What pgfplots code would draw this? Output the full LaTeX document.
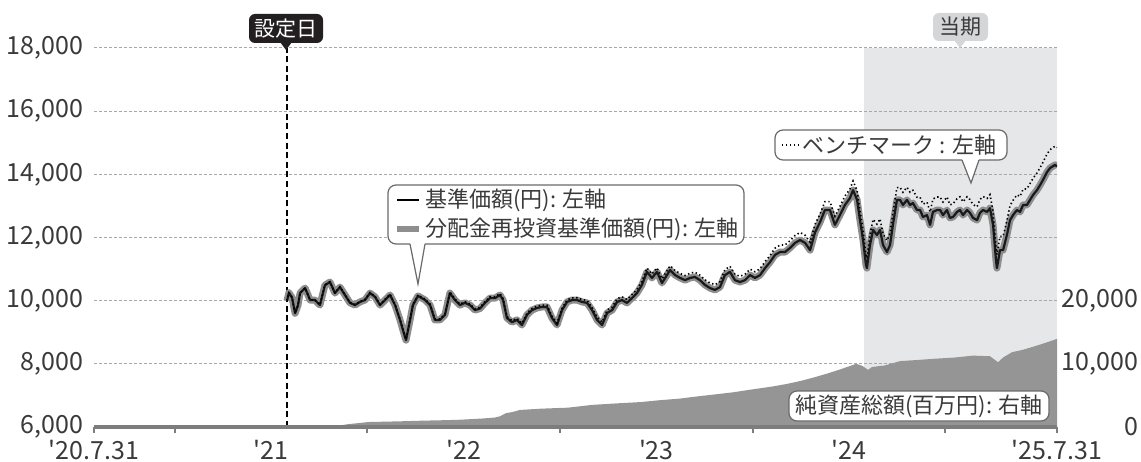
\documentclass[border=0pt]{standalone}
\usepackage{fontspec}
\setmainfont{Noto Sans CJK JP}
\usepackage{pgfplots}
\usepackage{pgfplotstable}
\pgfplotsset{compat=1.18}
\definecolor{txt}{HTML}{3A3A3A}
\definecolor{axisgray}{HTML}{7D7D7D}
\definecolor{gridgray}{HTML}{A8A8A8}
\definecolor{periodbg}{HTML}{E6E7E9}
\definecolor{bandgray}{HTML}{8E8E8E}
\definecolor{areagray}{HTML}{959595}
\definecolor{boxborder}{HTML}{6A6A6A}
\definecolor{tagdark}{HTML}{231F20}
\definecolor{taglight}{HTML}{D5D6D8}
\pgfplotsset{
  layers/mylayers/.define layer set={axis background,axis grid,pre main,main,axis ticks,axis lines,axis tick labels,axis descriptions,axis foreground}{/pgfplots/layers/standard},
}
% year, NAV (yen), benchmark (yen)
\pgfplotstableread{
year nav bm
2021.582 10000 10000
2021.592 10250 10250
2021.608 10100 10101
2021.624 9600 9602
2021.639 9850 9853
2021.650 10240 10243
2021.676 10400 10404
2021.702 10020 10026
2021.727 10020 10027
2021.753 9860 9868
2021.779 10490 10499
2021.805 10590 10600
2021.831 10240 10252
2021.857 10430 10443
2021.883 10180 10194
2021.909 9930 9945
2021.935 9860 9876
2021.961 9960 9977
2021.987 10020 10039
2022.013 10240 10260
2022.039 10120 10141
2022.065 9860 9882
2022.091 10020 10043
2022.117 10180 10204
2022.143 9860 9885
2022.169 9390 9415
2022.184 9070 9096
2022.200 8750 8777
2022.221 9390 9417
2022.236 9860 9888
2022.262 10150 10179
2022.299 10020 10050
2022.325 9860 9891
2022.350 9390 9422
2022.376 9390 9423
2022.402 9550 9584
2022.428 10240 10275
2022.454 10020 10056
2022.480 9860 9896
2022.506 9930 9967
2022.532 9860 9898
2022.558 9700 9739
2022.584 9750 9790
2022.610 9930 9971
2022.636 10080 10123
2022.662 10080 10124
2022.688 10180 10225
2022.704 10020 10066
2022.724 9450 9497
2022.750 9320 9368
2022.776 9390 9439
2022.802 9230 9281
2022.828 9550 9602
2022.854 9700 9753
2022.880 9770 9824
2022.906 9800 9855
2022.932 9800 9857
2022.958 9450 9508
2022.984 9230 9289
2023.010 9700 9761
2023.036 9960 10025
2023.062 10020 10088
2023.088 10020 10092
2023.114 9960 10035
2023.140 9930 10009
2023.166 9700 9782
2023.192 9390 9476
2023.218 9230 9319
2023.244 9610 9703
2023.270 9700 9796
2023.296 9960 10060
2023.321 10020 10123
2023.347 9930 10037
2023.373 10080 10190
2023.399 10240 10354
2023.425 10500 10617
2023.451 10910 11031
2023.477 10720 10844
2023.503 10910 11038
2023.529 10560 10691
2023.555 10810 10945
2023.571 10970 11107
2023.597 10810 10950
2023.623 10720 10863
2023.649 10650 10797
2023.675 10720 10870
2023.700 10750 10903
2023.726 10650 10807
2023.752 10500 10660
2023.778 10400 10563
2023.804 10340 10507
2023.830 10430 10600
2023.856 10810 10983
2023.882 10910 11087
2023.908 10650 10830
2023.934 10590 10773
2023.960 10650 10837
2023.986 10810 11000
2024.012 10720 10915
2024.038 10810 11010
2024.064 11030 11235
2024.090 11220 11429
2024.116 11450 11664
2024.142 11540 11759
2024.168 11540 11764
2024.194 11670 11899
2024.220 11830 12064
2024.246 11920 12159
2024.272 11830 12073
2024.298 11600 11848
2024.324 12170 12423
2024.350 12490 12748
2024.375 12870 13133
2024.401 12870 13138
2024.427 12400 12673
2024.453 12710 12987
2024.479 13030 13312
2024.505 13250 13537
2024.521 13500 13790
2024.542 13190 13489
2024.557 12550 12856
2024.573 11920 12232
2024.588 11130 11448
2024.593 11030 11350
2024.609 11760 12087
2024.625 12240 12574
2024.645 12080 12423
2024.661 12240 12590
2024.677 11760 12116
2024.697 11540 11905
2024.713 11760 12132
2024.728 12400 12779
2024.749 13190 13578
2024.765 13190 13590
2024.780 13030 13431
2024.801 13190 13592
2024.817 13030 13433
2024.832 13090 13494
2024.853 12870 13275
2024.869 12870 13276
2024.884 12650 13057
2024.905 12710 13118
2024.921 12400 12809
2024.936 12810 13220
2024.957 12870 13281
2024.973 12870 13282
2024.988 12710 13123
2025.009 12870 13284
2025.024 12620 13035
2025.040 12650 13066
2025.061 12810 13227
2025.076 12870 13288
2025.092 12710 13129
2025.113 12870 13290
2025.128 12780 13201
2025.144 12620 13042
2025.165 12550 12973
2025.180 12780 13204
2025.196 12870 13295
2025.217 12810 13236
2025.232 12930 13357
2025.248 12400 12828
2025.263 11290 11719
2025.268 11030 11459
2025.284 11600 12030
2025.300 11600 12039
2025.320 12080 12531
2025.336 12550 13010
2025.352 12710 13179
2025.372 12870 13351
2025.388 12810 13300
2025.404 13030 13529
2025.424 13030 13541
2025.440 13190 13710
2025.455 13340 13869
2025.476 13500 14041
2025.492 13660 14210
2025.507 13820 14379
2025.528 14070 14641
2025.544 14200 14780
2025.570 14300 14894
2025.580 14250 14850
}\navtable
% year, net assets (million yen)
\pgfplotstableread{
year na
2021.582 0
2021.700 30
2021.831 120
2021.900 450
2022.008 790
2022.100 850
2022.169 900
2022.283 1000
2022.400 1080
2022.480 1150
2022.600 1350
2022.662 1500
2022.688 1700
2022.720 2200
2022.750 2350
2022.792 2700
2022.900 2900
2023.041 3060
2023.166 3500
2023.300 3750
2023.420 3950
2023.520 4250
2023.623 4500
2023.700 4800
2023.804 5160
2023.900 5500
2023.986 5900
2024.100 6400
2024.183 6850
2024.250 7300
2024.324 7900
2024.380 8400
2024.438 8950
2024.500 9600
2024.537 10000
2024.568 9700
2024.599 9050
2024.620 9500
2024.687 9750
2024.765 10430
2024.850 10600
2024.942 10800
2025.050 11000
2025.144 11300
2025.232 11200
2025.263 10500
2025.274 10260
2025.300 11000
2025.347 11850
2025.400 12200
2025.450 12650
2025.518 13300
2025.580 13950
}\natable
\begin{document}
\begin{tikzpicture}
\begin{axis}[
  set layers=mylayers,
  at={(47pt,17pt)}, anchor=south west,
  scale only axis, width=481.5pt, height=189.5pt,
  xmin=2020.58, xmax=2025.58, ymin=6000, ymax=18000,
  axis x line*=bottom, axis y line*=left,
  y axis line style={draw=none},
  x axis line style={draw=axisgray, line width=1.7pt},
  xtick={2020.58,2021.5,2022.5,2023.5,2024.5,2025.58},
  xticklabels={{\textquotesingle20.7.31},{\textquotesingle21},{\textquotesingle22},{\textquotesingle23},{\textquotesingle24},{\textquotesingle25.7.31}},
  minor xtick={2020.58,2021,2022,2023,2024,2025,2025.58},
  major tick length=0pt, minor tick length=3pt, tick align=outside,
  major tick style={draw=none},
  minor tick style={draw=axisgray, line width=1pt},
  ytick={6000,8000,10000,12000,14000,16000,18000},
  scaled y ticks=false,
  ymajorgrids,
  major grid style={draw=gridgray, line width=0.5pt, dash pattern=on 1.5pt off 1pt},
  tick label style={font=\fontsize{12.5}{14}\selectfont, text=txt},
  /pgf/number format/assume math mode=true,
  /pgf/number format/1000 sep={,},
  yticklabel style={xshift=-2pt},
  xticklabel style={yshift=-3pt},
]
\begin{pgfonlayer}{axis background}
\fill[periodbg] (axis cs:2024.58,6000) rectangle (axis cs:2025.58,18000);
\end{pgfonlayer}
\draw[black, line width=0.8pt, dash pattern=on 3pt off 1.8pt] (axis cs:2021.582,6000) -- (axis cs:2021.582,18000);
\addplot[draw=bandgray, line width=3.5pt, line join=round, mark=none] table[x=year,y=nav]{\navtable};
\addplot[draw=black!90, line width=1.1pt, line join=round, mark=none] table[x=year,y=nav]{\navtable};
\addplot[draw=black, line width=0.8pt, dash pattern=on 0.7pt off 1.3pt, mark=none] table[x=year,y=bm]{\navtable};
\end{axis}
\begin{axis}[
  set layers=mylayers,
  at={(47pt,17pt)}, anchor=south west,
  scale only axis, width=481.5pt, height=189.5pt,
  xmin=2020.58, xmax=2025.58, ymin=0, ymax=60000,
  axis x line=none, axis y line*=right,
  y axis line style={draw=none},
  ytick={0,10000,20000},
  scaled y ticks=false,
  major tick length=0pt,
  major tick style={draw=none},
  tick label style={font=\fontsize{12.5}{14}\selectfont, text=txt},
  /pgf/number format/assume math mode=true,
  /pgf/number format/1000 sep={,},
  yticklabel style={anchor=east, xshift=44pt},
]
\addplot[fill=areagray, draw=none, mark=none] table[x=year,y=na]{\natable} \closedcycle;
\end{axis}
\begin{scope}[x=0.5pt,y=0.5pt]
% legend box 1
\draw[boxborder, line width=0.6pt, fill=white, rounded corners=4pt] (388,217) rectangle (744,276);
\fill[white] (410,218) -- (418,177) -- (425,218) -- cycle;
\draw[boxborder, line width=0.6pt] (410,217) -- (418,177) -- (425,217);
\draw[black, line width=1.1pt] (397,261) -- (419,261);
\node[anchor=west, inner sep=0pt, font=\fontsize{11}{13}\selectfont, text=txt] at (425,261) {基準価額(円): 左軸};
\draw[bandgray, line width=3pt] (397,232) -- (419,232);
\node[anchor=west, inner sep=0pt, font=\fontsize{11}{13}\selectfont, text=txt] at (425,232) {分配金再投資基準価額(円): 左軸};
% legend box 2
\draw[boxborder, line width=0.6pt, fill=white, rounded corners=4pt] (775,301) rectangle (1007,331);
\fill[white] (962,302) -- (971,278) -- (979,302) -- cycle;
\draw[boxborder, line width=0.6pt] (962,301) -- (971,278) -- (979,301);
\draw[black, line width=0.8pt, dash pattern=on 0.7pt off 1.3pt] (782,316) -- (799,316);
\node[anchor=west, inner sep=0pt, font=\fontsize{11}{13}\selectfont, text=txt] at (802,316) {ベンチマーク : 左軸};
% legend box 3
\draw[boxborder, line width=0.6pt, fill=white, rounded corners=4pt] (789,40) rectangle (1049,70);
\node[inner sep=0pt, font=\fontsize{11}{13}\selectfont, text=txt] at (919,55) {純資産総額(百万円): 右軸};
% tags
\fill[tagdark, rounded corners=3pt] (249,418) rectangle (323,447);
\fill[tagdark] (280,419) -- (286,411) -- (292,419) -- cycle;
\node[inner sep=0pt, text=white, font=\fontsize{10.5}{12}\selectfont] at (286,432.5) {設定日};
\fill[taglight, rounded corners=3pt] (933,420) rectangle (988,448);
\fill[taglight] (954,421) -- (960,413) -- (966,421) -- cycle;
\node[inner sep=0pt, text=txt, font=\fontsize{10.5}{12}\selectfont] at (960.5,434) {当期};
\end{scope}
\pgfresetboundingbox
\path[use as bounding box] (0,0) rectangle (570.5pt,230.5pt);
\end{tikzpicture}
\end{document}
